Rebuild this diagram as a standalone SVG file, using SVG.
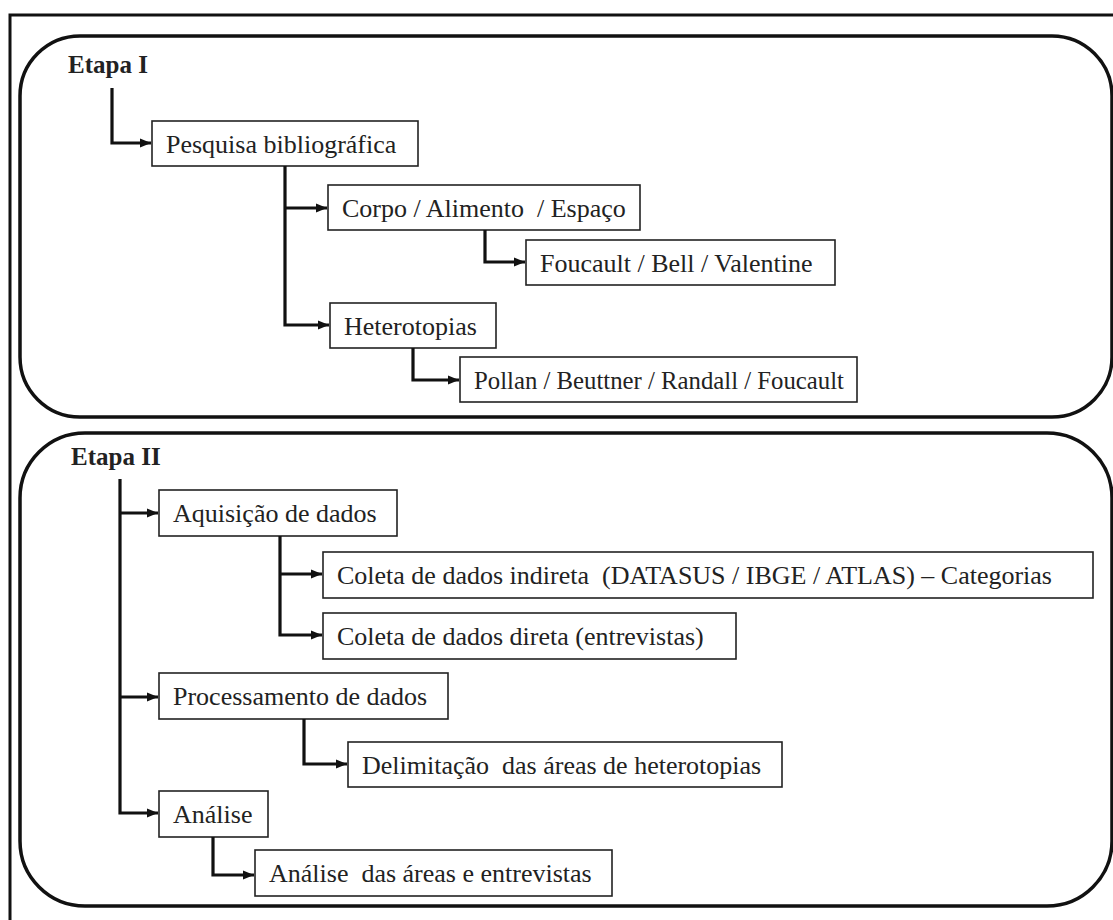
<svg xmlns="http://www.w3.org/2000/svg" width="1113" height="920" viewBox="0 0 1113 920">
<style>
.frame{fill:none;stroke:#111;stroke-width:3}
.stage{fill:#fff;stroke:#111;stroke-width:3.5}
.box{fill:#fff;stroke:#222;stroke-width:1.6}
.t{font-size:26px;fill:#222;white-space:pre}
.h{font-size:25px;font-weight:bold;fill:#222;white-space:pre}
.c{fill:none;stroke:#111;stroke-width:3.2;stroke-linejoin:miter}
</style>
<defs>
<marker id="arr" markerUnits="userSpaceOnUse" markerWidth="12" markerHeight="12" viewBox="0 0 12 12" refX="11" refY="6" orient="auto">
<path d="M0,1.5 L11,6 L0,10.5 z" fill="#111"/>
</marker>
</defs>
<rect width="1113" height="920" fill="#fff"/>
<path class="frame" d="M10,935 V15 H1130"/>
<g font-family="Liberation Serif, Tinos, Times New Roman, DejaVu Serif, serif">
<g id="etapa1">
<rect class="stage" x="20" y="36" width="1092" height="381" rx="60" ry="60"/>
<text class="h" x="68" y="73">Etapa I</text>
</g>
<g id="etapa2">
<rect class="stage" x="20" y="433" width="1092" height="473" rx="65" ry="65"/>
<text class="h" x="71" y="465">Etapa II</text>
</g>
<g id="n_pesquisa"><rect class="box" x="152" y="121" width="266" height="45"/><text class="t" x="166" y="153">Pesquisa bibliográfica</text></g>
<g id="n_corpo"><rect class="box" x="328" y="185" width="312" height="45"/><text class="t" x="342" y="217">Corpo / Alimento  / Espaço</text></g>
<g id="n_foucault"><rect class="box" x="526" y="240" width="309" height="45"/><text class="t" x="540" y="272">Foucault / Bell / Valentine</text></g>
<g id="n_hetero"><rect class="box" x="330" y="303" width="166" height="45"/><text class="t" x="344" y="335">Heterotopias</text></g>
<g id="n_pollan"><rect class="box" x="460" y="357" width="397" height="45"/><text class="t" x="474" y="389" textLength="370" lengthAdjust="spacingAndGlyphs">Pollan / Beuttner / Randall / Foucault</text></g>
<g id="n_aquisicao"><rect class="box" x="159" y="490" width="238" height="46"/><text class="t" x="173" y="522">Aquisição de dados</text></g>
<g id="n_indireta"><rect class="box" x="323" y="552" width="770" height="46"/><text class="t" x="337" y="584">Coleta de dados indireta  (DATASUS / IBGE / ATLAS) – Categorias</text></g>
<g id="n_direta"><rect class="box" x="323" y="613" width="413" height="46"/><text class="t" x="337" y="645">Coleta de dados direta (entrevistas)</text></g>
<g id="n_process"><rect class="box" x="159" y="673" width="289" height="46"/><text class="t" x="173" y="705">Processamento de dados</text></g>
<g id="n_delim"><rect class="box" x="348" y="742" width="434" height="45"/><text class="t" x="362" y="774">Delimitação  das áreas de heterotopias</text></g>
<g id="n_analise"><rect class="box" x="159" y="791" width="109" height="46"/><text class="t" x="173" y="823">Análise</text></g>
<g id="n_analise2"><rect class="box" x="255" y="850" width="357" height="46"/><text class="t" x="269" y="882">Análise  das áreas e entrevistas</text></g>
</g>
<g id="connectors">
<path class="c" d="M112,88 V143 H151" marker-end="url(#arr)"/>
<path class="c" d="M285,166 V325 H329" marker-end="url(#arr)"/>
<path class="c" d="M285,208 H327" marker-end="url(#arr)"/>
<path class="c" d="M485,230 V262 H525" marker-end="url(#arr)"/>
<path class="c" d="M413,348 V380 H459" marker-end="url(#arr)"/>
<path class="c" d="M120,479 V813 H158" marker-end="url(#arr)"/>
<path class="c" d="M120,513 H158" marker-end="url(#arr)"/>
<path class="c" d="M120,697 H158" marker-end="url(#arr)"/>
<path class="c" d="M280,536 V635 H322" marker-end="url(#arr)"/>
<path class="c" d="M280,574 H322" marker-end="url(#arr)"/>
<path class="c" d="M304,719 V764 H347" marker-end="url(#arr)"/>
<path class="c" d="M213,837 V875 H254" marker-end="url(#arr)"/>
</g>
</svg>
